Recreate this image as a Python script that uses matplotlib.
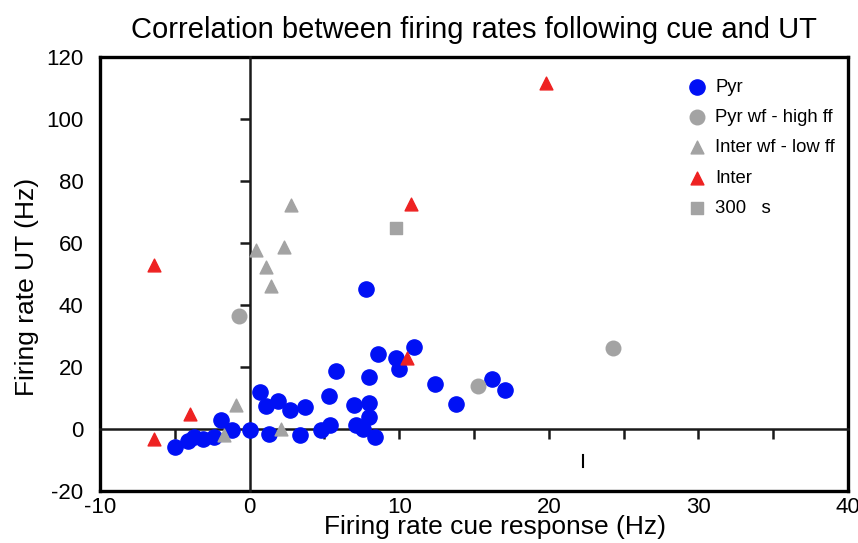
import matplotlib
matplotlib.use("Agg")
import matplotlib.pyplot as plt

plt.rcParams['font.family'] = ['Liberation Sans', 'DejaVu Sans']
plt.rcParams['axes.unicode_minus'] = False

# cue response (x) vs UT firing rate (y), in Hz
pyr_x = [7.75, 5.75, 8.6, 9.8, 10.0, 11.0, 12.4, 13.8, 16.2, 17.1, 8.0, 7.0, 8.0,
         8.0, 7.1, 7.6, 8.4, 5.3, 5.4, 4.8, 3.4, 3.7, 2.7, 1.9, 1.1, 0.7, 1.3, 0.0,
         -1.2, -1.9, -2.4, -3.1, -3.7, -4.1, -5.0]
pyr_y = [45.2, 18.7, 24.2, 22.9, 19.4, 26.5, 14.5, 8.1, 16.1, 12.6, 16.8, 7.7, 8.4,
         3.9, 1.3, 0.0, -2.6, 10.6, 1.3, -0.3, -1.9, 7.1, 6.1, 9.0, 7.4, 11.9, -1.6,
         -0.3, -0.3, 2.9, -2.6, -3.2, -2.6, -3.9, -5.8]

pyr_wf_x = [-0.7, 15.3, 24.3]
pyr_wf_y = [36.3, 13.9, 26.1]

inter_wf_x = [2.8, 0.4, 2.3, 1.1, 1.4, -0.9, 2.1, -1.7]
inter_wf_y = [72.3, 57.7, 58.7, 52.3, 46.1, 7.7, 0.0, -1.9]

inter_x = [-6.4, -4.0, -6.4, 10.5, 10.8, 19.8]
inter_y = [52.9, 4.8, -3.2, 22.9, 72.6, 111.6]

sq_x = [9.8]
sq_y = [64.8]

# stray vertical mark below the data
mark_x = 22.3
mark_y = (-12.3, -8.4)

xticks = [-10, 0, 10, 20, 30, 40]
yticks = [-20, 0, 20, 40, 60, 80, 100, 120]
inner_xticks = [-5, 5, 10, 15, 20, 25, 30, 35]
inner_yticks = [20, 40, 60, 80, 100]
xlim = (-10, 40)
ylim = (-20, 120)

W, H = 858, 543
fig = plt.figure(figsize=(W / 100, H / 100), dpi=100)
pos = [100 / W, 1 - 491 / H, 748 / W, 434 / H]

# outer frame carrying the tick labels
ax = fig.add_axes(pos)
ax.set_xlim(*xlim)
ax.set_ylim(*ylim)
ax.set_xticks(xticks)
ax.set_yticks(yticks)
ax.tick_params(length=0, labelsize=16, pad=4)
ax.tick_params(axis='y', pad=12)
for s in ax.spines.values():
    s.set_linewidth(2.4)
    s.set_color('black')
ax.set_title('Correlation between firing rates following cue and UT', fontsize=21, pad=14)
ax.set_xlabel('Firing rate cue response (Hz)', fontsize=19)
ax.set_ylabel('Firing rate UT (Hz)', fontsize=19)
ax.xaxis.set_label_coords(0.528, -0.056)
ax.yaxis.set_label_coords(-0.082, 0.47)

# overlay axes with spines crossing at zero
ax2 = fig.add_axes(pos)
ax2.set_xlim(*xlim)
ax2.set_ylim(*ylim)
ax2.patch.set_visible(False)
ax2.spines['left'].set_position(('data', 0))
ax2.spines['bottom'].set_position(('data', 0))
ax2.spines['top'].set_visible(False)
ax2.spines['right'].set_visible(False)
for k in ('left', 'bottom'):
    ax2.spines[k].set_linewidth(1.8)
    ax2.spines[k].set_color('#1a1a1a')
ax2.set_xticks(inner_xticks)
ax2.set_yticks(inner_yticks)
ax2.tick_params(direction='out', length=7, width=1.8, color='#1a1a1a',
                labelbottom=False, labelleft=False)

ax2.scatter(pyr_x, pyr_y, s=120, color='#0010f5', label='Pyr', zorder=4)
ax2.scatter(pyr_wf_x, pyr_wf_y, s=110, color='#a3a3a3', label='Pyr wf - high ff', zorder=4)
ax2.scatter(inter_wf_x, inter_wf_y, s=85, marker='^', color='#a3a3a3',
            label='Inter wf - low ff', zorder=4)
ax2.scatter(inter_x, inter_y, s=85, marker='^', color='#ee2222', label='Inter', zorder=4)
ax2.scatter(sq_x, sq_y, s=85, marker='s', color='#a3a3a3', label='300   s', zorder=4)
ax2.plot([mark_x, mark_x], mark_y, color='black', lw=1.5)

ax2.legend(loc='upper right', bbox_to_anchor=(1.0, 0.98), frameon=False,
           fontsize=13.3, handletextpad=0.0, labelspacing=0.72, borderaxespad=0.3)

fig.savefig('out.png', dpi=100)
